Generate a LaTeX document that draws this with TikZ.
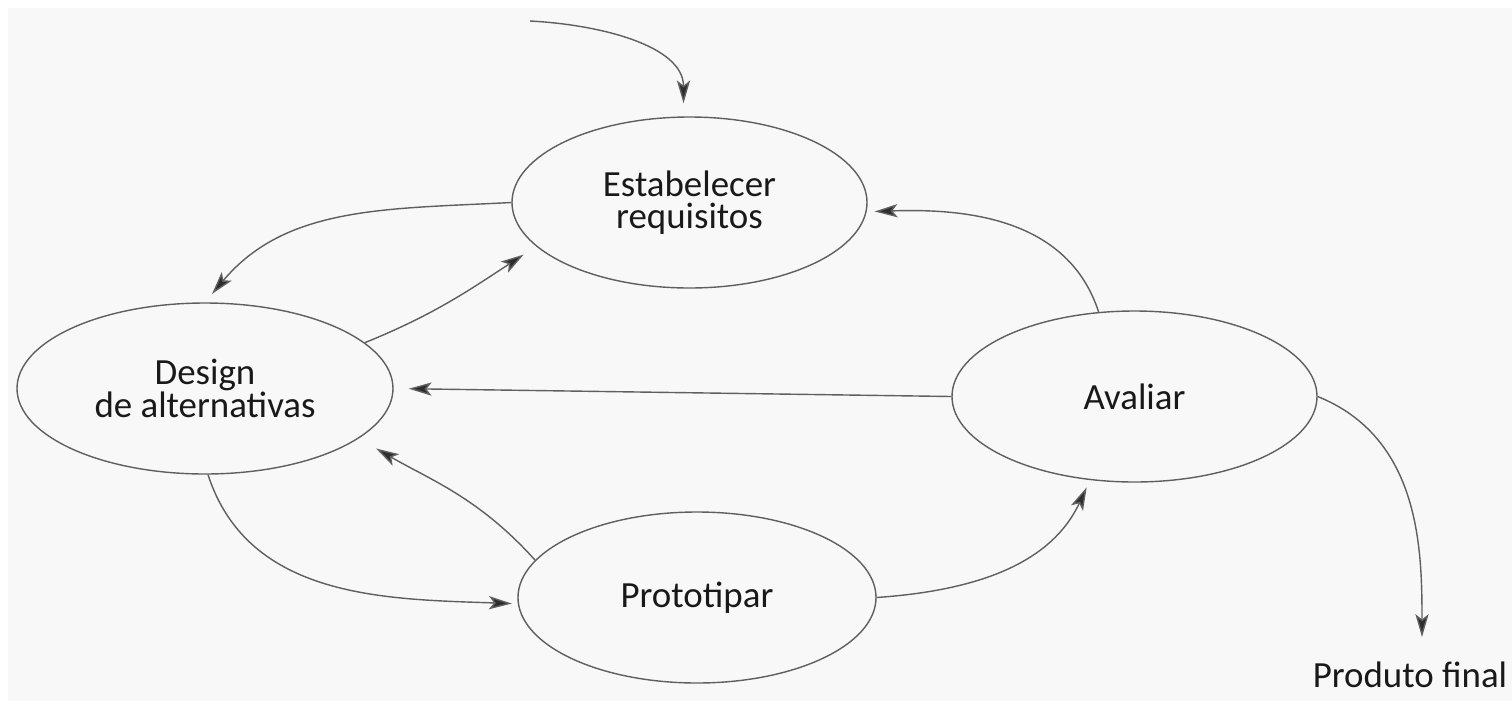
\documentclass[tikz,border=0pt]{standalone}
\usepackage{fontspec}
\setmainfont{Carlito}
\usetikzlibrary{shapes.geometric, arrows.meta}
\definecolor{bggray}{RGB}{248,248,248}
\definecolor{linegray}{RGB}{95,95,95}
\definecolor{tipgray}{RGB}{45,45,45}
\definecolor{textblack}{RGB}{25,25,25}

\begin{document}
\begin{tikzpicture}[
    stagebox/.style={ellipse, draw=linegray, line width=0.8pt, minimum height=3.42cm, inner sep=0pt, align=center, text=textblack, font=\fontsize{21}{18}\selectfont},
    flow/.style={-{Stealth[length=13pt, width=7.5pt, inset=3pt, fill=tipgray]}, line width=0.8pt, linegray}
]

% Background
\fill[white] (0,0) rectangle (30.24,-14.02);
\fill[bggray] (0.16,-0.16) rectangle (30.24,-14.02);
\useasboundingbox (0,0) rectangle (30.24,-14.02);

\node[stagebox, minimum width=7.10cm] (est) at (13.79,-4.05) {Estabelecer\\requisitos};
\node[stagebox, minimum width=7.52cm] (des) at (4.10,-7.77) {Design\\de alternativas};
\node[stagebox, minimum width=7.30cm] (ava) at (22.69,-7.93) {Avaliar};
\node[stagebox, minimum width=7.16cm] (pro) at (13.94,-11.95) {Prototipar};
\node[anchor=base, inner sep=0pt, text=textblack, font=\fontsize{21}{18}\selectfont] (prod) at (28.20,-13.74) {Produto final};
\coordinate (start) at (10.60,-0.42);

% Entry
\draw[flow, shorten >=0.26cm] (start) to[out=-3, in=90] ([xshift=-0.12cm]est.north);

% Cycle
\draw[flow, shorten >=0.22cm] (est.west) to[out=183, in=50] (des.north);
\draw[flow, shorten >=0.30cm] (des.16) to[out=22, in=213] (est.196);
\draw[flow, shorten >=0.30cm] (ava.west) -- (des.east);
\draw[flow, shorten >=0.16cm] (ava.113) to[out=108, in=2] (est.-3);
\draw[flow, shorten >=0.40cm] (pro.167) to[out=132, in=-30] (des.-18);
\draw[flow, shorten >=0.12cm] (des.-88) to[out=-72, in=178] (pro.182);
\draw[flow, shorten >=0.16cm] (pro.east) to[out=4, in=-115] (ava.-118);

% Exit
\draw[flow, shorten >=0.48cm] (ava.east) to[out=-22, in=90] ([xshift=0.24cm]prod.north);

\end{tikzpicture}
\end{document}
